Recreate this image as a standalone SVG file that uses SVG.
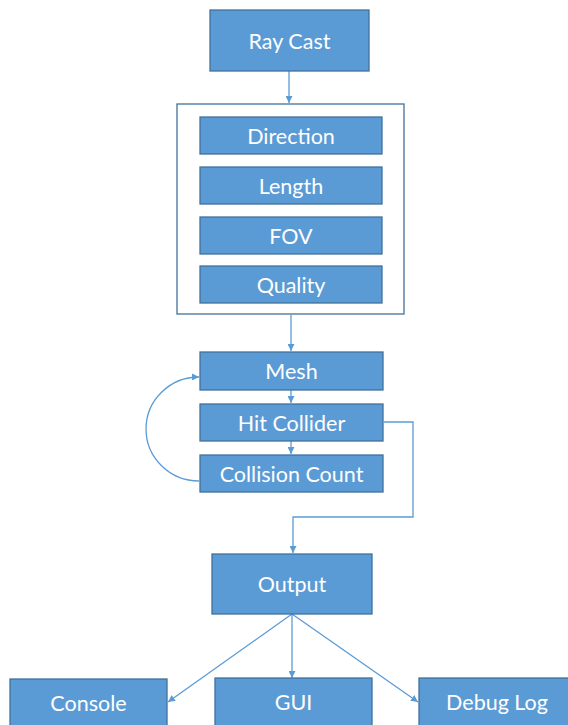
<svg xmlns="http://www.w3.org/2000/svg" width="568" height="725" viewBox="0 0 568 725">
<style>
.box{fill:#5B9BD5;stroke:#41719C;stroke-width:1.3}
.lbl{fill:#fff;font-family:Lato,"Liberation Sans",sans-serif;font-size:21.5px;text-anchor:middle;dominant-baseline:central}
.con{fill:none;stroke:#5B9BD5;stroke-width:1.3;marker-end:url(#ah)}
</style>
<defs>
<marker id="ah" viewBox="0 0 10 10" refX="10" refY="5" markerWidth="7" markerHeight="7" markerUnits="userSpaceOnUse" orient="auto">
<path d="M0,0L10,5L0,10z" fill="#5B9BD5"/>
</marker>
</defs>
<rect width="568" height="725" fill="#fff"/>
<g id="connectors">
<path class="con" d="M289,71V103"/>
<path class="con" d="M291,315V351"/>
<path class="con" d="M291,390V403"/>
<path class="con" d="M291,441V454"/>
<path class="con" d="M199,481A53,52 0 0 1 199,377"/>
<path class="con" d="M384,422H413V517H293V553"/>
<path class="con" d="M292,614L168,702"/>
<path class="con" d="M292,614V678"/>
<path class="con" d="M292,614L418,702"/>
</g>
<g id="raycast"><rect class="box" x="210" y="10" width="159" height="61"/><text class="lbl" x="289.5" y="41">Ray Cast</text></g>
<g id="params">
<rect x="177" y="104" width="227" height="210" fill="none" stroke="#41719C" stroke-width="1.3"/>
<g id="direction"><rect class="box" x="200" y="117" width="182" height="37"/><text class="lbl" x="291" y="136">Direction</text></g>
<g id="length"><rect class="box" x="200" y="167" width="182" height="37"/><text class="lbl" x="291" y="186">Length</text></g>
<g id="fov"><rect class="box" x="200" y="217" width="182" height="37"/><text class="lbl" x="291" y="236">FOV</text></g>
<g id="quality"><rect class="box" x="200" y="266" width="182" height="37"/><text class="lbl" x="291" y="285">Quality</text></g>
</g>
<g id="mesh"><rect class="box" x="200" y="352" width="183" height="38"/><text class="lbl" x="291.5" y="371">Mesh</text></g>
<g id="hitcollider"><rect class="box" x="200" y="404" width="183" height="37"/><text class="lbl" x="291.5" y="422.5">Hit Collider</text></g>
<g id="collisioncount"><rect class="box" x="200" y="455" width="183" height="37"/><text class="lbl" x="291.5" y="473.5">Collision Count</text></g>
<g id="output"><rect class="box" x="212" y="554" width="160" height="60"/><text class="lbl" x="292" y="584">Output</text></g>
<g id="console"><rect class="box" x="10" y="679" width="157" height="60"/><text class="lbl" x="88.5" y="703">Console</text></g>
<g id="gui"><rect class="box" x="215" y="678" width="157" height="60"/><text class="lbl" x="293.5" y="702">GUI</text></g>
<g id="debuglog"><rect class="box" x="419" y="678" width="160" height="60"/><text class="lbl" x="497" y="702">Debug Log</text></g>
</svg>
